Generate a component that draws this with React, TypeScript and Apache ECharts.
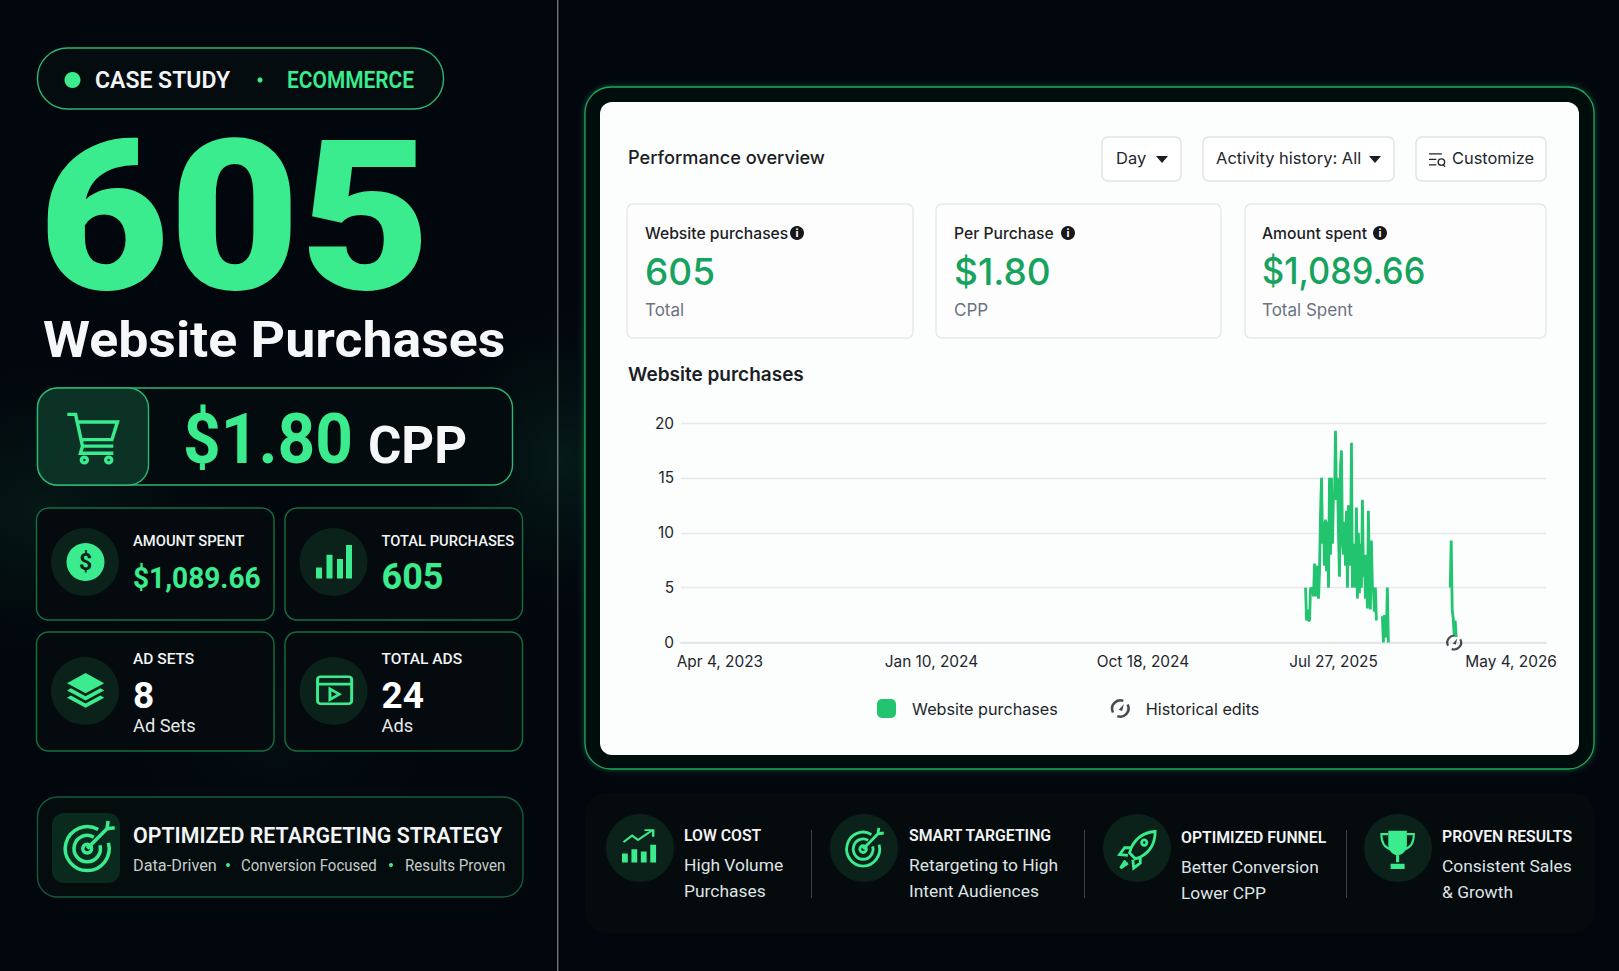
import { useEffect, useRef } from 'react'
import * as echarts from 'echarts'

// chart data, one slot is roughly one pixel of the time axis
const slotCount = 868
const tickSlots = [39, 251, 463, 654, 832]
const tickLabels = ['Apr 4, 2023', 'Jan 10, 2024', 'Oct 18, 2024', 'Jul 27, 2025', 'May 4, 2026']
const yTicks = [0, 5, 10, 15, 20]
const burstStart = 626
const burstValues = [
  5, 2, 3, 2, 2, 5, 4.8, 5, 4.2, 7.2, 4.2, 5, 7, 4, 6.5, 11.8, 15, 9, 11, 7, 11.2, 6.5, 11, 5, 15, 8, 15, 9, 13.5, 13,
  19.3, 13, 15, 10, 6, 16, 17.5, 9, 8, 11, 7, 12, 5, 12.5, 9.5, 7, 18.2, 5, 8, 9, 5, 12.3, 4, 10, 4.5, 9, 5, 13, 6, 8,
  4, 8, 3.1, 12, 6, 3, 9.3, 5, 5, 2.8, 5, 2, null, null, null, null, null, 2.4, 0, 2.5, 0.5, 0.6, 5, 0,
]
const lateStart = 771
const lateValues = [5, 9.3, 3, 2.2, 0.7, 2, 0.5]
const editSlot = 775

const GREEN = '#3bec8e'
const PLEX = 'Roboto, sans-serif'
const INTER = 'Inter, sans-serif'

const cards = [
  { x: 36.5, y: 508, h: 112, label: 'AMOUNT SPENT', labelFit: 0.955, value: '$1,089.66', size: 30, fit: 0.935, color: GREEN, note: '', labelY: 541, valueY: 578 },
  { x: 285, y: 508, h: 112, label: 'TOTAL PURCHASES', labelFit: 0.95, value: '605', size: 36, fit: 1, color: GREEN, note: '', labelY: 541, valueY: 577 },
  { x: 36.5, y: 632, h: 119, label: 'AD SETS', labelFit: 1, value: '8', size: 37, fit: 1, color: '#ffffff', note: 'Ad Sets', labelY: 659, valueY: 695 },
  { x: 285, y: 632, h: 119, label: 'TOTAL ADS', labelFit: 1, value: '24', size: 37, fit: 1, color: '#ffffff', note: 'Ads', labelY: 659, valueY: 695 },
]
const perks = [
  { cx: 640, x: 684, title: 'LOW COST', lines: ['High Volume', 'Purchases'], dy: 0 },
  { cx: 864, x: 909, title: 'SMART TARGETING', lines: ['Retargeting to High', 'Intent Audiences'], dy: 0 },
  { cx: 1137, x: 1181, title: 'OPTIMIZED FUNNEL', lines: ['Better Conversion', 'Lower CPP'], dy: 2 },
  { cx: 1398, x: 1442, title: 'PROVEN RESULTS', lines: ['Consistent Sales', '& Growth'], dy: 1 },
]
const metrics = [
  { x: 627, w: 286, x0: 645, title: 'Website purchases', infoX: 797, value: '605', fit: 1, sub: 'Total' },
  { x: 936, w: 285, x0: 954, title: 'Per Purchase', infoX: 1068, value: '$1.80', fit: 1, sub: 'CPP' },
  { x: 1245, w: 301, x0: 1262, title: 'Amount spent', infoX: 1380, value: '$1,089.66', fit: 0.93, sub: 'Total Spent' },
]

const SHAPES: Record<string, string> = {
  cart: 'M1 1.5h3.6l3 14.5h13.4 M5.4 5h17.4l-2.4 8H7.2 M7.6 16l-.9 3.2h14.3 M9.7 22.3a1.3 1.3 0 1 0-2.6 0a1.3 1.3 0 1 0 2.6 0 M20.3 22.3a1.3 1.3 0 1 0-2.6 0a1.3 1.3 0 1 0 2.6 0',
  bars: 'M0 24V16h4v8z M7 24V7h4v17z M14 24V10h4v14z M20 24V0h4v24z',
  layers: 'M12 0L24 7L12 14L0 7z M2.5 10.5L12 16l9.5-5.5L24 12 12 19 0 12z M2.5 15.5L12 21l9.5-5.5L24 17 12 24 0 17z',
  video: 'M3 2h18a2 2 0 0 1 2 2v16a2 2 0 0 1-2 2H3a2 2 0 0 1-2-2V4a2 2 0 0 1 2-2z M1 7.5h22 M9 11l6 4-6 4z',
  target: 'M16 4.34A10 10 0 1 0 20.66 10.4 M14 7.8A6 6 0 1 0 16.8 11.45 M13 13a2 2 0 1 1-4 0a2 2 0 1 1 4 0 M11 13L20 4 M20 4l.5-3.5 M20 4l3.5-.5',
  upBars: 'M0 24V16h4v8z M6.5 24V12h4v12z M13 24V14h4v10z M19.5 24V8h4v16z',
  upArrow: 'M1 12l6-6 4 4 10-9 M15.5 1h6v6',
  rocket: 'M22.5 1.5C16 2 11 5 8 11l-1 3 3.5 3.5 3-1c6-3 9-8 9-15z M17.5 8a1.6 1.6 0 1 1-3.2 0a1.6 1.6 0 1 1 3.2 0 M8 11H4l-3 4 5 .5 M13.5 16v4l-4 3-.5-5 M4.5 18.5L1.5 23l4.5-3',
  cup: 'M6 1h12v8c0 4-3 6.5-6 6.5S6 13 6 9z M11 15.5h2v4h-2z M7.5 20.5h9v3h-9z',
  cupArms: 'M6 3H1.5c0 5 2 8 6 9 M18 3h4.5c0 5-2 8-6 9',
  tune: 'M0 2h14 M0 8h8 M0 14h8 M17 11a3.5 3.5 0 1 1-7 0a3.5 3.5 0 1 1 7 0 M15.5 14l2 2',
}
Object.keys(SHAPES).forEach((k) => {
  echarts.graphic.registerShape(k, echarts.graphic.extendPath(SHAPES[k], {}))
})

const EDIT_ICON = 'path://M3.6 16.5A9.5 9.5 0 0 1 15.5 3.2l-1 2.2A7.2 7.2 0 0 0 5.8 15.4z M20.4 7.5A9.5 9.5 0 0 1 8.5 20.8l1-2.2A7.2 7.2 0 0 0 18.2 8.6z M10.4 13.2L15.6 7.4l-1.8 7.2z'

const text = (x: number, y: number, t: string, fontSize: number, fill: string, fontWeight = 400, fontFamily = PLEX, align = 'left', scaleX = 1) => ({
  type: 'text', x, y, scaleX, z: -1, silent: true,
  style: { text: t, fontSize, fill, fontWeight, fontFamily, align, verticalAlign: 'middle' },
})
const box = (x: number, y: number, width: number, height: number, r: number, style: any) => ({
  type: 'rect', z: -1, silent: true, shape: { x, y, width, height, r }, style,
})
const dot = (cx: number, cy: number, r: number, fill: string) => ({
  type: 'circle', z: -1, silent: true, shape: { cx, cy, r }, style: { fill },
})
const icon = (name: string, x: number, y: number, scaleX: number, scaleY: number, style: any) => ({
  type: name, z: -1, silent: true, x, y, scaleX, scaleY, style,
})
const glow = (x: number, y: number, width: number, height: number, color: string) =>
  box(x, y, width, height, 0, {
    fill: {
      type: 'radial', x: 0.5, y: 0.5, r: 0.5,
      colorStops: [{ offset: 0, color }, { offset: 1, color: 'rgba(0,0,0,0)' }],
    },
  })

const buildGraphic = () => {
  const els: any[] = [
    box(0, 0, 1619, 971, 0, { fill: '#02060d' }),
    glow(-220, 300, 520, 420, 'rgba(20,120,70,0.16)'),
    glow(380, 250, 360, 420, 'rgba(20,140,80,0.16)'),
    glow(0, 480, 560, 480, 'rgba(20,90,60,0.10)'),
    box(557, 0, 1.4, 971, 0, { fill: '#6f7578' }),

    // badge
    box(37.5, 48, 406, 61, 30, { fill: '#040c10', stroke: '#2bb673', lineWidth: 1.4 }),
    dot(72.5, 80, 8, GREEN),
    text(95, 80, 'CASE STUDY', 23, '#f2f4f5', 600),
    dot(260, 80, 2.6, GREEN),
    text(287, 80, 'ECOMMERCE', 23, GREEN, 600, PLEX, 'left', 0.91),

    text(38.5, 217.5, '605', 210, GREEN, 900, PLEX, 'left', 1.074),
    text(43, 340, 'Website Purchases', 50.5, '#f6f7f8', 700, PLEX, 'left', 1.063),

    // cpp row
    box(37.5, 388, 475, 97, 20, { fill: '#040b0f', stroke: '#2bb673', lineWidth: 1.4 }),
    box(37.5, 388, 111, 97, 20, { fill: '#0b3224', stroke: '#2bb673', lineWidth: 1.4 }),
    icon('cart', 65, 411, 2.3, 2.2, { fill: 'none', stroke: GREEN, lineWidth: 1.5 }),
    text(183, 439, '$1.80', 70, GREEN, 700, PLEX, 'left', 0.94),
    text(368, 445, 'CPP', 51, '#f6f7f8', 700),

    // strategy row
    box(37.5, 797, 485.5, 100, 20, { fill: '#040c0d', stroke: '#135c3b', lineWidth: 1.4 }),
    box(52, 813, 68, 70, 12, { fill: '#0a2a1d' }),
    icon('target', 63, 820, 2.2, 2.2, { fill: 'none', stroke: GREEN, lineWidth: 1.6 }),
    text(133, 834.5, 'OPTIMIZED RETARGETING STRATEGY', 23, '#f2f4f5', 600, PLEX, 'left', 0.93),
    text(133, 865, 'Data-Driven', 16.3, '#c5cbc9'),
    dot(228, 865, 2, GREEN),
    text(241, 865, 'Conversion Focused', 16.3, '#c5cbc9', 400, PLEX, 'left', 0.92),
    dot(391, 865, 2, GREEN),
    text(405, 865, 'Results Proven', 16.3, '#c5cbc9', 400, PLEX, 'left', 0.93),

    // chart frame
    box(585, 87, 1009, 682, 26, { fill: '#030d0c', stroke: '#1fa862', lineWidth: 1.3, shadowBlur: 6, shadowColor: 'rgba(34,197,110,0.4)' }),
    box(600, 102, 979, 653, 12, { fill: '#fcfdfd' }),
    text(628, 157, 'Performance overview', 18.2, '#1b1e24', 500, INTER),

    box(1102, 137, 79, 44, 6, { fill: '#ffffff', stroke: '#dfe2e7', lineWidth: 1.4 }),
    text(1116, 158, 'Day', 16.5, '#22262c', 400, INTER),
    { type: 'polygon', z: -1, silent: true, shape: { points: [[1156, 156], [1168, 156], [1162, 163]] }, style: { fill: '#1b1e24' } },
    box(1203, 137, 191, 44, 6, { fill: '#ffffff', stroke: '#dfe2e7', lineWidth: 1.4 }),
    text(1216, 158, 'Activity history: All', 16.5, '#22262c', 400, INTER),
    { type: 'polygon', z: -1, silent: true, shape: { points: [[1369, 156], [1381, 156], [1375, 163]] }, style: { fill: '#1b1e24' } },
    box(1416, 137, 130, 44, 6, { fill: '#ffffff', stroke: '#dfe2e7', lineWidth: 1.4 }),
    icon('tune', 1429, 152, 0.92, 0.92, { fill: 'none', stroke: '#22262c', lineWidth: 1.5 }),
    text(1452, 158, 'Customize', 16.4, '#22262c', 400, INTER),

    text(628, 374, 'Website purchases', 19, '#1b1e24', 600, INTER),
  ]

  metrics.forEach((m) => {
    els.push(
      box(m.x, 204, m.w, 134, 6, { fill: '#fdfdfe', stroke: '#e5e7eb', lineWidth: 1.3 }),
      text(m.x0, 233, m.title, 15.7, '#1b1e24', 500, INTER),
      dot(m.infoX, 233, 7, '#16181c'),
      text(m.infoX, 233, 'i', 11, '#ffffff', 700, INTER, 'center'),
      text(m.x0, 271, m.value, 37, '#16a35d', 500, INTER, 'left', m.fit),
      text(m.x0, 310, m.sub, 17, '#6b7280', 400, INTER),
    )
  })

  cards.forEach((c) => {
    const ix = c.x + 48.5
    const iy = c.y + (c.h === 112 ? 54 : 59)
    els.push(
      box(c.x, c.y, 237.5, c.h, 12, { fill: '#040a0d', stroke: '#15703f', lineWidth: 1.4 }),
      dot(ix, iy, 34, '#0a2219'),
      text(c.x + 96.5, c.labelY, c.label, 15.5, '#f2f4f5', 500, PLEX, 'left', c.labelFit),
      text(c.x + 96.5, c.valueY, c.value, c.size, c.color, 700, PLEX, 'left', c.fit),
    )
    if (c.note) els.push(text(c.x + 96.5, 725, c.note, 18.3, '#e6e9ea'))
  })
  els.push(
    dot(85.5, 562, 19, GREEN),
    text(85.5, 562, '$', 23, '#07231a', 700, PLEX, 'center'),
    icon('bars', 316, 545, 1.5, 1.4, { fill: GREEN }),
    icon('layers', 67, 673, 1.55, 1.45, { fill: GREEN }),
    icon('video', 316, 674, 1.55, 1.35, { fill: 'none', stroke: GREEN, lineWidth: 1.9 }),
  )

  // bottom strip
  els.push(box(585, 793, 1009, 140, 20, { fill: '#050a0d' }))
  perks.forEach((p) => {
    els.push(
      dot(p.cx, 848, 34, '#0a2219'),
      text(p.x, 835 + p.dy, p.title, 15.8, '#f2f4f5', 600),
      text(p.x, 864.5 + p.dy, p.lines[0], 17.4, '#dfe3e4'),
      text(p.x, 890.5 + p.dy, p.lines[1], 17.4, '#dfe3e4'),
    )
  })
  ;[811, 1084, 1346].forEach((x) => els.push(box(x, 830, 1, 68, 0, { fill: '#3a4144' })))
  els.push(
    icon('upBars', 622, 836, 1.45, 1.1, { fill: GREEN }),
    icon('upArrow', 622, 829, 1.45, 1.1, { fill: 'none', stroke: GREEN, lineWidth: 1.7 }),
    icon('target', 845, 827, 1.65, 1.7, { fill: 'none', stroke: GREEN, lineWidth: 1.7 }),
    icon('rocket', 1118, 829, 1.65, 1.7, { fill: 'none', stroke: GREEN, lineWidth: 1.7 }),
    icon('cup', 1379, 829, 1.55, 1.7, { fill: GREEN }),
    icon('cupArms', 1379, 829, 1.55, 1.7, { fill: 'none', stroke: GREEN, lineWidth: 1.3 }),
  )
  return els
}

const categories = Array.from({ length: slotCount }, (_, i) => {
  const t = tickSlots.indexOf(i)
  return t >= 0 ? tickLabels[t] : ''
})
const purchases: (number | null)[] = categories.map(() => null)
burstValues.forEach((v, i) => { purchases[burstStart + i] = v })
lateValues.forEach((v, i) => { purchases[lateStart + i] = v })

const App = () => {
  const chartRef = useRef<HTMLDivElement>(null)

  useEffect(() => {
    if (!chartRef.current) return
    const chart = echarts.init(chartRef.current, undefined, { renderer: 'svg' })

    chart.setOption({
      animation: false,
      graphic: { elements: buildGraphic() },
      grid: { left: 681, top: 423, width: 865, height: 219.5 },
      legend: {
        left: 872, top: 694, itemWidth: 19, itemHeight: 19, itemGap: 53, selectedMode: false,
        textStyle: { fontFamily: INTER, fontSize: 16.2, color: '#22262c', padding: [0, 0, 0, 11] },
        data: [
          { name: 'Website purchases', icon: 'roundRect' },
          { name: 'Historical edits', icon: EDIT_ICON },
        ],
      },
      xAxis: {
        type: 'category', boundaryGap: false, data: categories,
        axisTick: { show: false },
        axisLine: { lineStyle: { color: '#e4e6ea', width: 2 } },
        axisLabel: {
          interval: (_: number, v: string) => v !== '', margin: 11, hideOverlap: false,
          fontFamily: INTER, fontSize: 15.4, color: '#22262c',
        },
      },
      yAxis: {
        type: 'value', min: yTicks[0], max: yTicks[yTicks.length - 1], interval: 5,
        axisLine: { show: false }, axisTick: { show: false },
        axisLabel: { margin: 7, fontFamily: INTER, fontSize: 15.4, color: '#22262c' },
        splitLine: { lineStyle: { color: '#e6e8ec', width: 1.4 } },
      },
      series: [
        {
          name: 'Website purchases', type: 'line', data: purchases, showSymbol: false, symbol: 'none',
          connectNulls: false, lineStyle: { color: '#22c470', width: 2.8 }, itemStyle: { color: '#22c470' },
        },
        {
          name: 'Historical edits', type: 'scatter', data: [[editSlot, 0]], symbol: EDIT_ICON, symbolSize: 16,
          itemStyle: { color: '#1b1e24' },
        },
      ],
    })

    return () => chart.dispose()
  }, [])

  return <div ref={chartRef} style={{ position: 'absolute', left: 0, top: 0, width: 1619, height: 971 }} />
}

export default App
